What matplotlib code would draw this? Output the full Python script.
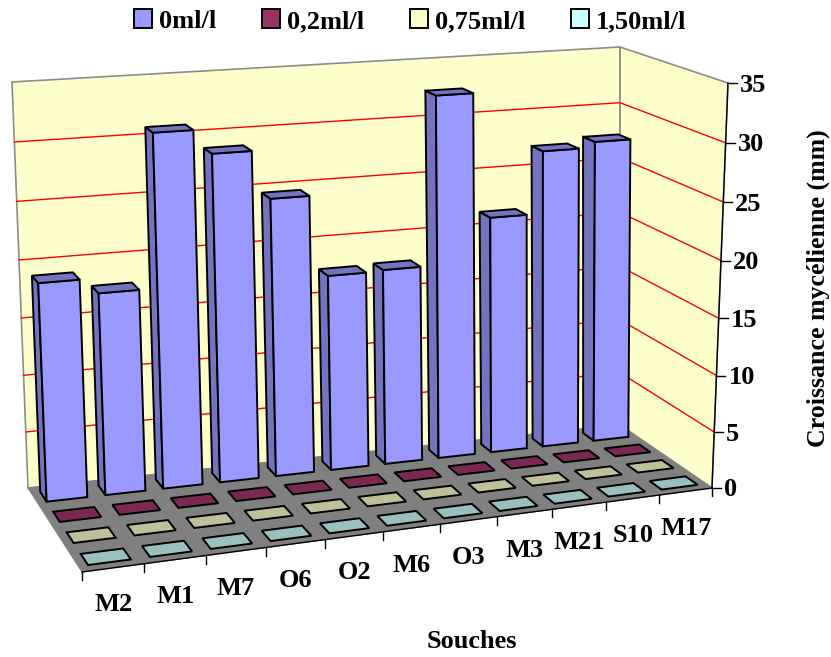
import numpy as np
import matplotlib
matplotlib.use('Agg')
import matplotlib.pyplot as plt
from matplotlib.patches import Patch

plt.rcParams['font.family'] = ['Liberation Serif', 'DejaVu Serif']
plt.rcParams['font.weight'] = 'bold'

# data
souches = ['M2', 'M1', 'M7', 'O6', 'O2', 'M6', 'O3', 'M3', 'M21', 'S10', 'M17']
doses = ['0ml/l', '0,2ml/l', '0,75ml/l', '1,50ml/l']
v_0 = [18.9, 17.6, 30.8, 28.7, 24.5, 17.4, 17.5, 32.4, 21.35, 26.9, 27.4]
v_02 = [0, 0, 0, 0, 0, 0, 0, 0, 0, 0, 0]
v_075 = [0, 0, 0, 0, 0, 0, 0, 0, 0, 0, 0]
v_150 = [0, 0, 0, 0, 0, 0, 0, 0, 0, 0, 0]
z_ticks = [0, 5, 10, 15, 20, 25, 30, 35]

# colours
front_cols = ['#9999FF', '#993366', '#FFFFCC', '#CCFFFF']
top_cols = ['#7373BF', '#7A2952', '#BFBF99', '#99BFBF']

# perspective fitted on the box corners (x slot, depth, z) -> pixel
nx = len(souches)
nd = len(doses)
zmax = z_ticks[-1]
world = [(0, 0, 0), (nx, 0, 0), (0, nd, 0), (nx, nd, 0),
         (0, nd, zmax), (nx, nd, zmax), (nx, 0, zmax)]
pix = [(82, 572), (712, 488), (28, 488), (620, 425),
       (12, 82), (620, 47), (728, 83)]
A = []
b = []
for (x, y, z), (u, v) in zip(world, pix):
    A.append([x, y, z, 1, 0, 0, 0, 0, -u * x, -u * y, -u * z])
    A.append([0, 0, 0, 0, x, y, z, 1, -v * x, -v * y, -v * z])
    b += [u, v]
p = np.linalg.lstsq(np.array(A, float), np.array(b, float), rcond=None)[0]
P = np.append(p, 1).reshape(3, 4)


def proj0(x, y, z):
    q = P @ np.array([x, y, z, 1.0])
    return np.array([q[0] / q[2], q[1] / q[2]])


# what the fit leaves over at the corners gets spread over the box
resid = {k: np.array(m, float) - proj0(*k) for k, m in zip(world, pix)}
resid[(0, 0, zmax)] = resid[(0, 0, 0)]


def proj(x, y, z):
    fx, fy, fz = x / nx, y / nd, z / zmax
    c = np.zeros(2)
    for (wx, wy, wz), r in resid.items():
        c = c + r * (fx if wx else 1 - fx) * (fy if wy else 1 - fy) * (fz if wz else 1 - fz)
    return tuple(proj0(x, y, z) + c)


def face(pts, fc, ec='black', lw=1.4, zo=3):
    ax.fill(*zip(*[proj(*k) for k in pts]), facecolor=fc, edgecolor=ec,
            linewidth=lw, joinstyle='miter', zorder=zo)


fig = plt.figure(figsize=(8.31, 6.57), dpi=100)
ax = fig.add_axes([0, 0, 1, 1])
ax.set_xlim(0, 831)
ax.set_ylim(657, 0)
ax.axis('off')

# walls and floor
face([(0, nd, 0), (nx, nd, 0), (nx, nd, zmax), (0, nd, zmax)], '#FFFFCC', '#8C8C8C', 1.2, 1)
face([(nx, nd, 0), (nx, 0, 0), (nx, 0, zmax), (nx, nd, zmax)], '#FFFFCC', '#8C8C8C', 1.2, 1)
face([(0, 0, 0), (nx, 0, 0), (nx, nd, 0), (0, nd, 0)], '#808080', '#808080', 0.8, 1)

# gridlines
for t in z_ticks[1:-1]:
    pts = [proj(0, nd, t), proj(nx, nd, t), proj(nx, 0, t)]
    ax.plot(*zip(*pts), color='red', lw=1.0, zorder=2)

# axis lines and ticks
ax.plot(*zip(proj(0, 0, 0), proj(nx, 0, 0)), color='black', lw=1.0, zorder=2)
ax.plot(*zip(proj(nx, 0, 0), proj(nx, 0, zmax)), color='black', lw=1.0, zorder=2)
for i in range(nx + 1):
    u, v = proj(i, 0, 0)
    ax.plot([u, u], [v, v + 8], color='black', lw=1.0, zorder=2)
for t in z_ticks:
    u, v = proj(nx, 0, t)
    ax.plot([u, u + 9], [v, v], color='black', lw=1.0, zorder=2)
    ax.text(u + 12, v + 2, str(t), fontsize=19, ha='left', va='center')
for i, s in enumerate(souches):
    u, v = proj(i + 0.5, 0, 0)
    ax.text(u, v + 37, s, fontsize=19, ha='center', va='center')

# bars, back row first, right to left
bw = 0.69
bd = 0.5
rows = [v_150, v_075, v_02, v_0]
for r in range(nd - 1, -1, -1):
    vals = rows[r]
    k = nd - 1 - r
    y0 = r + 0.5 - bd / 2
    y1 = r + 0.5 + bd / 2
    for i in range(nx - 1, -1, -1):
        x0 = i + 0.5 - bw / 2
        x1 = i + 0.5 + bw / 2
        h = vals[i]
        if h > 0:
            face([(x0, y0, 0), (x0, y1, 0), (x0, y1, h), (x0, y0, h)], top_cols[k])
            face([(x0, y0, 0), (x1, y0, 0), (x1, y0, h), (x0, y0, h)], front_cols[k])
        face([(x0, y0, h), (x1, y0, h), (x1, y1, h), (x0, y1, h)], top_cols[k])

# titles
ax.text(472, 641, 'Souches', fontsize=19, ha='center', va='center')
ax.text(818, 288, 'Croissance mycélienne (mm)', fontsize=18.6, ha='center', va='center', rotation=90)

handles = [Patch(facecolor=c, edgecolor='black', linewidth=1.4) for c in front_cols]
ax.legend(handles, doses, ncol=4, frameon=False, fontsize=19, loc='center',
          bbox_to_anchor=(410, 21), bbox_transform=ax.transData,
          handlelength=0.68, handleheight=0.72, handletextpad=0.25,
          columnspacing=1.75, borderpad=0, borderaxespad=0)

fig.savefig('out.png', dpi=100)
